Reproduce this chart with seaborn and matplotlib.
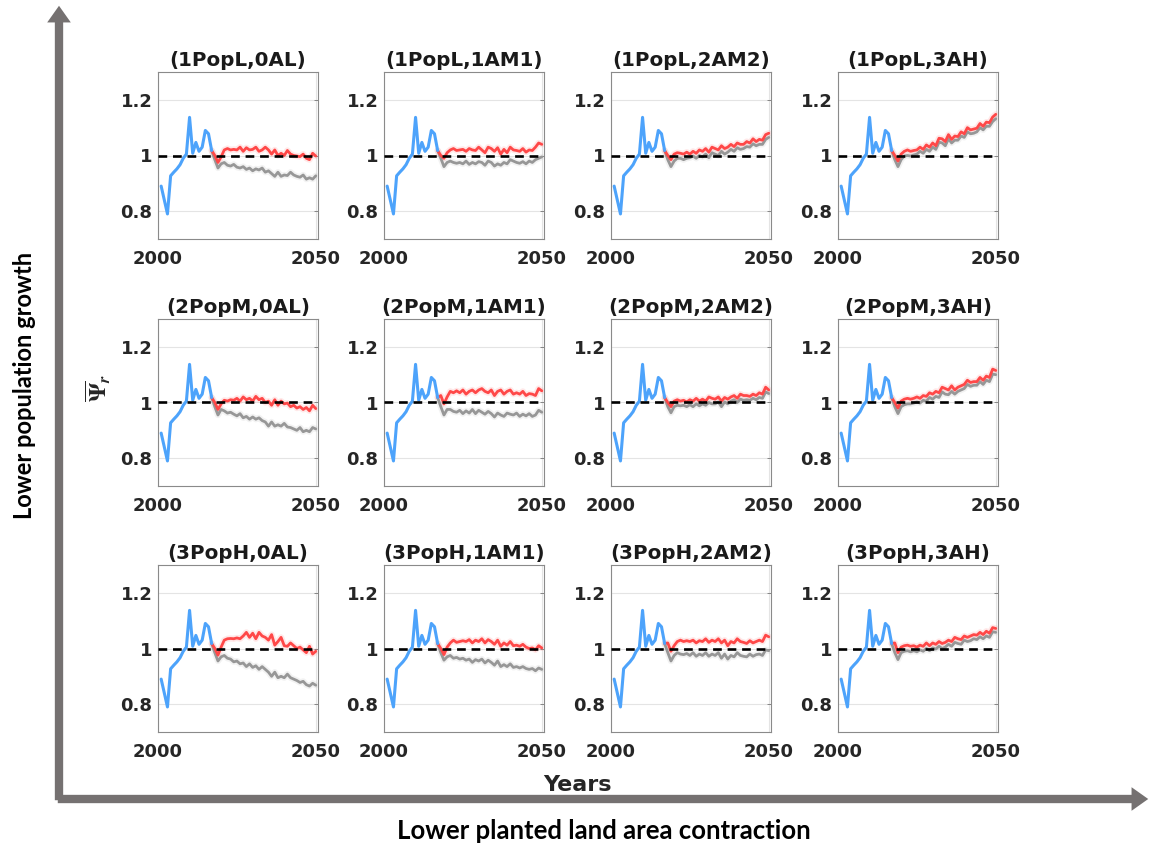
import matplotlib
matplotlib.use("Agg")
import matplotlib.pyplot as plt
import seaborn as sns
from matplotlib.patches import FancyArrowPatch

sns.set_style("white")
plt.rcParams["font.family"] = ["DejaVu Sans"]
plt.rcParams["font.weight"] = "bold"
plt.rcParams["mathtext.fontset"] = "stix"

# Historical data (same in every panel)
years_hist = list(range(2001, 2018))
hist = [0.89, 0.84, 0.79, 0.927, 0.94, 0.952, 0.967, 0.99, 1.005, 1.137,
        1.008, 1.047, 1.015, 1.03, 1.09, 1.078, 1.018]

# Projection years 2017-2050
years_proj = list(range(2017, 2051))

pop_labels = ["1PopL", "2PopM", "3PopH"]
land_labels = ["0AL", "1AM1", "2AM2", "3AH"]

# 1PopL
red_L0 = [1.018, 1.0, 0.975, 0.995, 1.02, 1.025, 1.02, 1.022, 1.02, 1.03, 1.015, 1.028, 1.02, 1.022, 1.03, 1.015, 1.02,
          1.03, 1.02, 1.005, 1.02, 1.0, 1.008, 1.0, 1.018, 1.005, 1.0, 0.998, 0.996, 1.005, 0.99, 0.985, 1.008, 0.998]
gray_L0 = [1.018, 0.985, 0.955, 0.97, 0.975, 0.965, 0.962, 0.968, 0.958, 0.955, 0.96, 0.95, 0.955, 0.945, 0.952, 0.948, 0.955,
           0.94, 0.945, 0.935, 0.925, 0.94, 0.925, 0.93, 0.928, 0.94, 0.93, 0.925, 0.922, 0.93, 0.915, 0.92, 0.915, 0.927]
red_L1 = [1.018, 1.0, 0.99, 1.01, 1.02, 1.025, 1.018, 1.02, 1.022, 1.015, 1.025, 1.02, 1.018, 1.03, 1.02, 1.01, 1.03,
          1.025, 1.015, 1.028, 1.005, 1.022, 1.01, 1.03, 1.02, 1.018, 1.015, 1.025, 1.012, 1.02, 1.018, 1.03, 1.045, 1.04]
gray_L1 = [1.018, 0.99, 0.96, 0.975, 0.98, 0.975, 0.972, 0.975, 0.97, 0.98, 0.968, 0.975, 0.97, 0.978, 0.975, 0.965, 0.98,
           0.975, 0.962, 0.97, 0.965, 0.975, 0.97, 0.985, 0.98, 0.975, 0.972, 0.978, 0.97, 0.98, 0.975, 0.985, 0.99, 0.995]
red_L2 = [1.018, 1.0, 0.985, 1.005, 1.01, 1.008, 1.005, 1.012, 1.005, 1.015, 1.008, 1.02, 1.015, 1.025, 1.012, 1.03, 1.025,
          1.02, 1.035, 1.025, 1.03, 1.04, 1.032, 1.045, 1.04, 1.04, 1.05, 1.045, 1.06, 1.05, 1.058, 1.055, 1.075, 1.08]
gray_L2 = [1.018, 0.985, 0.96, 0.98, 0.99, 0.99, 0.985, 0.99, 0.992, 0.998, 0.99, 1.0, 0.995, 1.005, 0.992, 1.01, 1.005,
           1.0, 1.015, 1.005, 1.012, 1.022, 1.015, 1.028, 1.022, 1.025, 1.032, 1.03, 1.042, 1.035, 1.04, 1.04, 1.058, 1.065]
red_L3 = [1.018, 1.0, 0.98, 1.005, 1.015, 1.02, 1.015, 1.018, 1.02, 1.03, 1.022, 1.038, 1.03, 1.045, 1.035, 1.062, 1.06,
          1.05, 1.075, 1.058, 1.07, 1.068, 1.085, 1.078, 1.1, 1.092, 1.095, 1.098, 1.115, 1.105, 1.12, 1.118, 1.138, 1.148]
gray_L3 = [1.018, 0.985, 0.96, 0.985, 0.998, 1.0, 0.998, 1.002, 1.005, 1.015, 1.008, 1.022, 1.015, 1.03, 1.022, 1.048, 1.045,
           1.035, 1.06, 1.045, 1.055, 1.055, 1.07, 1.065, 1.085, 1.078, 1.08, 1.085, 1.1, 1.092, 1.105, 1.105, 1.122, 1.132]

# 2PopM
red_M0 = [1.018, 1.0, 0.975, 0.995, 1.008, 1.005, 1.01, 1.008, 1.015, 1.005, 1.02, 1.01, 1.015, 1.005, 1.022, 1.01, 1.015,
          1.0, 1.005, 0.99, 1.01, 0.99, 1.005, 0.995, 0.998, 0.985, 0.99, 0.98, 0.985, 0.975, 0.982, 0.97, 0.99, 0.978]
gray_M0 = [1.018, 0.985, 0.955, 0.975, 0.97, 0.962, 0.965, 0.958, 0.952, 0.96, 0.945, 0.95, 0.94, 0.948, 0.94, 0.945, 0.935,
           0.93, 0.915, 0.93, 0.915, 0.92, 0.915, 0.925, 0.912, 0.91, 0.905, 0.9, 0.91, 0.895, 0.9, 0.895, 0.91, 0.905]
red_M1 = [1.018, 1.025, 0.995, 1.02, 1.04, 1.035, 1.042, 1.035, 1.045, 1.03, 1.04, 1.045, 1.035, 1.045, 1.05, 1.04, 1.035,
          1.045, 1.025, 1.04, 1.045, 1.03, 1.04, 1.045, 1.03, 1.035, 1.03, 1.04, 1.025, 1.032, 1.03, 1.025, 1.05, 1.042]
gray_M1 = [1.018, 0.985, 0.955, 0.975, 0.975, 0.968, 0.965, 0.972, 0.96, 0.97, 0.962, 0.975, 0.96, 0.972, 0.965, 0.958, 0.968,
           0.96, 0.948, 0.962, 0.955, 0.95, 0.962, 0.958, 0.955, 0.962, 0.95, 0.958, 0.952, 0.96, 0.95, 0.955, 0.972, 0.965]
red_M2 = [1.018, 1.0, 0.985, 1.005, 1.01, 1.005, 1.008, 1.002, 1.01, 1.005, 1.015, 1.005, 1.012, 1.005, 1.02, 1.015, 1.012,
          1.02, 1.005, 1.018, 1.012, 1.02, 1.025, 1.015, 1.03, 1.025, 1.025, 1.022, 1.03, 1.025, 1.035, 1.03, 1.055, 1.045]
gray_M2 = [1.018, 0.985, 0.963, 0.985, 0.99, 0.988, 0.99, 0.985, 0.992, 0.985, 0.995, 0.988, 0.995, 0.99, 1.0, 0.995, 0.995,
           1.002, 0.985, 1.002, 0.995, 1.005, 1.01, 1.0, 1.012, 1.008, 1.01, 1.008, 1.015, 1.01, 1.018, 1.015, 1.038, 1.032]
red_M3 = [1.018, 1.0, 0.98, 1.005, 1.012, 1.015, 1.012, 1.015, 1.02, 1.015, 1.025, 1.022, 1.035, 1.03, 1.04, 1.035, 1.055,
          1.05, 1.045, 1.06, 1.045, 1.055, 1.06, 1.065, 1.08, 1.072, 1.075, 1.075, 1.09, 1.08, 1.095, 1.09, 1.12, 1.115]
gray_M3 = [1.018, 0.985, 0.96, 0.985, 0.992, 0.995, 0.995, 0.998, 1.002, 0.998, 1.008, 1.005, 1.018, 1.012, 1.022, 1.018, 1.038,
           1.03, 1.028, 1.04, 1.03, 1.04, 1.045, 1.05, 1.065, 1.058, 1.062, 1.062, 1.075, 1.065, 1.08, 1.075, 1.102, 1.1]

# 3PopH
red_H0 = [1.018, 1.0, 0.976, 1.005, 1.03, 1.035, 1.036, 1.035, 1.038, 1.035, 1.045, 1.058, 1.04, 1.055, 1.035, 1.058, 1.045,
          1.04, 1.03, 1.05, 1.012, 1.025, 1.04, 1.01, 1.008, 1.02, 1.01, 1.0, 1.005, 0.995, 0.985, 1.008, 0.98, 0.99]
gray_H0 = [1.018, 0.985, 0.955, 0.97, 0.975, 0.965, 0.962, 0.952, 0.955, 0.945, 0.948, 0.935, 0.945, 0.932, 0.938, 0.925, 0.935,
           0.925, 0.915, 0.9, 0.915, 0.895, 0.9, 0.895, 0.908, 0.895, 0.89, 0.885, 0.878, 0.882, 0.87, 0.865, 0.875, 0.868]
red_H1 = [1.018, 1.0, 0.978, 1.005, 1.02, 1.03, 1.022, 1.025, 1.028, 1.025, 1.032, 1.02, 1.03, 1.025, 1.035, 1.02, 1.032,
          1.025, 1.015, 1.03, 1.008, 1.02, 1.012, 1.025, 1.01, 1.012, 1.008, 1.015, 1.005, 1.0, 1.002, 0.995, 1.01, 1.002]
gray_H1 = [1.018, 0.985, 0.958, 0.97, 0.975, 0.965, 0.968, 0.962, 0.965, 0.958, 0.962, 0.95, 0.96, 0.955, 0.962, 0.948, 0.958,
           0.95, 0.94, 0.955, 0.935, 0.942, 0.935, 0.945, 0.932, 0.935, 0.93, 0.935, 0.928, 0.925, 0.928, 0.92, 0.93, 0.925]
red_H2 = [1.018, 1.02, 0.99, 1.01, 1.025, 1.03, 1.025, 1.028, 1.025, 1.03, 1.02, 1.028, 1.025, 1.035, 1.022, 1.03, 1.025,
          1.035, 1.02, 1.03, 1.01, 1.025, 1.02, 1.035, 1.025, 1.022, 1.018, 1.028, 1.02, 1.025, 1.03, 1.025, 1.048, 1.042]
gray_H2 = [1.018, 0.985, 0.955, 0.975, 0.985, 0.98, 0.978, 0.982, 0.975, 0.985, 0.972, 0.98, 0.975, 0.985, 0.972, 0.98, 0.975,
           0.985, 0.965, 0.98, 0.962, 0.975, 0.97, 0.985, 0.975, 0.972, 0.97, 0.98, 0.972, 0.978, 0.98, 0.975, 0.995, 0.992]
red_H3 = [1.018, 1.02, 0.985, 1.005, 1.01, 1.012, 1.008, 1.01, 1.005, 1.012, 1.008, 1.02, 1.01, 1.02, 1.015, 1.025, 1.018,
          1.022, 1.03, 1.025, 1.04, 1.035, 1.032, 1.045, 1.04, 1.045, 1.05, 1.048, 1.058, 1.05, 1.062, 1.055, 1.075, 1.072]
gray_H3 = [1.018, 0.985, 0.96, 0.985, 0.99, 0.992, 0.988, 0.992, 0.988, 0.995, 0.99, 1.0, 0.992, 1.002, 0.998, 1.008, 1.0,
           1.005, 1.015, 1.008, 1.022, 1.018, 1.015, 1.03, 1.025, 1.028, 1.035, 1.032, 1.042, 1.035, 1.045, 1.04, 1.06, 1.058]

red_rows = [[red_L0, red_L1, red_L2, red_L3],
            [red_M0, red_M1, red_M2, red_M3],
            [red_H0, red_H1, red_H2, red_H3]]
gray_rows = [[gray_L0, gray_L1, gray_L2, gray_L3],
             [gray_M0, gray_M1, gray_M2, gray_M3],
             [gray_H0, gray_H1, gray_H2, gray_H3]]

BLUE = "#4da3fb"
RED = "#ff4848"
GRAY = "#979797"
TXT = "#262626"

W, H = 1153, 848
fig = plt.figure(figsize=(W / 100, H / 100), dpi=100)

col_left = [158, 384, 611, 838]
row_top = [72, 319, 565]
aw, ah = 160, 167

for i, pop in enumerate(pop_labels):
    for j, land in enumerate(land_labels):
        ax = fig.add_axes([col_left[j] / W, 1 - (row_top[i] + ah) / H, aw / W, ah / H])
        red = red_rows[i][j]
        gray = gray_rows[i][j]

        # faint halo then the lines
        sns.lineplot(x=years_proj, y=gray, ax=ax, color=GRAY, lw=4.5, alpha=0.12)
        sns.lineplot(x=years_proj, y=red, ax=ax, color=RED, lw=4.5, alpha=0.12)
        sns.lineplot(x=years_proj, y=gray, ax=ax, color=GRAY, lw=2.0)
        sns.lineplot(x=years_proj, y=red, ax=ax, color=RED, lw=2.0)
        sns.lineplot(x=years_hist, y=hist, ax=ax, color=BLUE, lw=2.2)
        ax.axhline(1, color="black", lw=1.9, ls=(0, (3.3, 2.2)), zorder=5)

        ax.set_xlim(2000, 2050.7)
        ax.set_ylim(0.7, 1.3)
        ax.set_xticks([2000, 2050])
        ax.set_yticks([0.8, 1.0, 1.2])
        ax.set_yticklabels(["0.8", "1", "1.2"])
        ax.grid(True, color="#e4e4e4", lw=0.8)
        ax.set_axisbelow(True)
        ax.tick_params(axis="both", direction="in", length=3, width=0.6, color="#777777",
                       labelsize=13, labelcolor=TXT)
        ax.tick_params(axis="y", right=True, pad=4)
        ax.tick_params(axis="x", pad=8)
        for lbl in ax.get_xticklabels() + ax.get_yticklabels():
            lbl.set_fontweight("bold")
        for sp in ax.spines.values():
            sp.set_color("#8a8a8a")
            sp.set_linewidth(0.8)
        ax.set_xlabel("")
        ax.set_ylabel("")
        ax.set_title(f"({pop},{land})", fontsize=14.3, fontweight="bold", color="#1a1a1a", pad=4)

# shared labels
fig.text(577 / W, 1 - 785 / H, "Years", ha="center", va="center", fontsize=16,
         fontweight="bold", color=TXT)
fig.text(98 / W, 1 - 388 / H, r"$\overline{\Psi}_r$", ha="center", va="center",
         rotation=90, fontsize=17, color=TXT)

# outer arrows
arrow_col = "#757171"
style = "simple,head_width=0.85,head_length=0.6,tail_width=0.3"
fig.add_artist(FancyArrowPatch((59 / W, 1 - 803 / H), (59 / W, 1 - 3 / H), transform=fig.transFigure,
                               arrowstyle=style, mutation_scale=20, color=arrow_col, lw=0))
fig.add_artist(FancyArrowPatch((55 / W, 1 - 799 / H), (1151 / W, 1 - 799 / H), transform=fig.transFigure,
                               arrowstyle=style, mutation_scale=20, color=arrow_col, lw=0))

fig.text(25 / W, 1 - 385 / H, "Lower population growth", rotation=90, ha="center", va="center",
         fontsize=17, fontweight="bold", family=["Lato", "DejaVu Sans"], color="black")
fig.text(604 / W, 1 - 831 / H, "Lower planted land area contraction", ha="center", va="center",
         fontsize=18.5, fontweight="bold", family=["Lato", "DejaVu Sans"], color="black")

fig.savefig("out.png", dpi=100)
